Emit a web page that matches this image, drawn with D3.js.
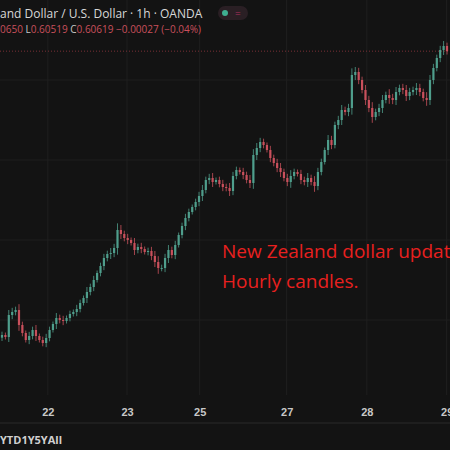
<!DOCTYPE html>
<html><head><meta charset="utf-8">
<script src="https://cdn.jsdelivr.net/npm/d3@7"></script>
<style>
body{margin:0;background:#131313;}
svg{display:block;font-family:"Open Sans",sans-serif;}
</style></head>
<body><div id="chart"></div>
<script>
// hourly closes, NZD/USD (x1e5)
var closes = [58916,58904,59036,59054,59066,58976,58928,58886,58910,58946,58910,58886,58868,58898,58946,58982,59018,59006,59000,59018,
59042,59054,59072,59108,59138,59174,59204,59246,59288,59330,59378,59402,59408,59438,59546,59522,59498,59486,59468,59426,
59444,59432,59414,59420,59390,59354,59318,59318,59378,59426,59396,59456,59516,59570,59618,59654,59684,59714,59750,59786,
59846,59858,59834,59846,59822,59804,59798,59780,59870,59906,59894,59876,59846,59828,59996,60038,60074,60056,60026,59978,
59948,59918,59894,59858,59834,59870,59894,59882,59846,59834,59858,59834,59810,59894,59954,60026,60086,60056,60176,60206,
60266,60254,60278,60476,60494,60446,60386,60326,60278,60224,60254,60278,60326,60356,60338,60326,60374,60398,60386,60350,
60374,60386,60398,60374,60338,60326,60446,60518,60578,60626,60650,60619];
// wick size beyond body (x1e5)
var wicks = [20,15,30,25,20,35,20,15,25,20,30,15,20,25,20,15,30,20,25,15,
20,15,25,20,15,30,20,25,15,20,25,20,30,25,40,30,20,25,15,30,
20,25,15,20,25,30,35,20,25,30,20,25,15,20,25,20,15,20,25,30,
20,25,30,15,20,25,20,30,25,20,15,25,20,30,35,30,25,20,15,25,
20,25,30,20,25,35,20,15,25,20,30,20,35,25,20,15,30,25,20,25,
30,20,25,40,30,25,20,30,25,35,20,25,30,20,35,25,30,20,25,30,
25,20,30,25,20,35,30,25,20,25,30,20];
var tickIdx = [13.5, 36.8, 58.2, 83.8, 107.4, 130.9];
var tickLabels = ["22", "23", "25", "27", "28", "29"];
var lastPrice = 0.60619;

var W = 450, H = 450, plotBottom = 395;
var candles = closes.map(function(c, i) {
  var o = i === 0 ? 58900 : closes[i - 1];
  return {i: i, o: o / 1e5, c: c / 1e5,
    h: (Math.max(o, c) + wicks[i]) / 1e5, l: (Math.min(o, c) - wicks[i]) / 1e5};
});

var x = d3.scaleLinear().domain([0, 131]).range([2, 447]);
var y = d3.scaleLinear().domain([0.58556, 0.60926]).range([plotBottom, 0]);

var svg = d3.select("#chart").append("svg").attr("width", W).attr("height", H);
svg.append("rect").attr("width", W).attr("height", H).attr("fill", "#131313");

// grid
svg.selectAll(".vg").data(tickIdx).enter().append("line")
  .attr("x1", function(d){ return x(d); }).attr("x2", function(d){ return x(d); })
  .attr("y1", 0).attr("y2", plotBottom).attr("stroke", "#1f1f1f");
svg.selectAll(".hg").data([0.60446, 0.59966, 0.59486, 0.59006]).enter().append("line")
  .attr("x1", 0).attr("x2", W)
  .attr("y1", function(d){ return y(d); }).attr("y2", function(d){ return y(d); })
  .attr("stroke", "#1f1f1f");

// last price dotted line
svg.append("line").attr("x1", 0).attr("x2", W)
  .attr("y1", y(lastPrice)).attr("y2", y(lastPrice))
  .attr("stroke", "#7a3036").attr("stroke-dasharray", "1,2");

var up = "#4f9e8c", down = "#c9505c";
var g = svg.append("g");
g.selectAll("line.wick").data(candles).enter().append("line")
  .attr("x1", function(d){ return x(d.i); }).attr("x2", function(d){ return x(d.i); })
  .attr("y1", function(d){ return y(d.h); }).attr("y2", function(d){ return y(d.l); })
  .attr("stroke", function(d){ return d.c >= d.o ? up : down; }).attr("stroke-width", 0.8);
g.selectAll("rect.body").data(candles).enter().append("rect")
  .attr("x", function(d){ return x(d.i) - 1.1; }).attr("width", 2.2)
  .attr("y", function(d){ return y(Math.max(d.o, d.c)); })
  .attr("height", function(d){ return Math.max(1, Math.abs(y(d.o) - y(d.c))); })
  .attr("fill", function(d){ return d.c >= d.o ? up : down; });

// x axis
var xAxis = d3.axisBottom(x).tickValues(tickIdx)
  .tickFormat(function(d, i){ return tickLabels[i]; }).tickSize(0).tickPadding(8);
var ax = svg.append("g").attr("transform", "translate(0," + (plotBottom + 5) + ")").call(xAxis);
ax.select(".domain").remove();
ax.selectAll("text").attr("fill", "#c8c8c8").style("font-size", "11px").style("font-weight", "bold");

svg.append("line").attr("x1", 0).attr("x2", W).attr("y1", 423).attr("y2", 423).attr("stroke", "#2a2a2a");
svg.append("text").attr("x", 0).attr("y", 444).attr("fill", "#d0d0d0")
  .style("font-size", "11px").style("font-weight", "bold").text("YTD1Y5YAll");

// header
svg.append("text").attr("x", 0).attr("y", 18).attr("fill", "#d8d8d8").style("font-size", "12px")
  .text("and Dollar / U.S. Dollar · 1h · OANDA");
var l2 = svg.append("text").attr("x", 0).attr("y", 33).style("font-size", "10px").attr("fill", "#c9505c");
l2.append("tspan").text("0650 ");
l2.append("tspan").attr("fill", "#c8c8c8").text("L");
l2.append("tspan").text("0.60519 ");
l2.append("tspan").attr("fill", "#c8c8c8").text("C");
l2.append("tspan").text("0.60619 −0.00027 (−0.04%)");
svg.append("rect").attr("x", 218).attr("y", 6).attr("width", 30).attr("height", 14).attr("rx", 7).attr("fill", "#2a1f24");
svg.append("circle").attr("cx", 225).attr("cy", 13).attr("r", 3).attr("fill", "#3fae90");
svg.append("text").attr("x", 235).attr("y", 17).attr("fill", "#b03060").style("font-size", "10px").text("=");

// annotation
svg.append("text").attr("x", 222).attr("y", 258).attr("fill", "#e8201f").style("font-size", "19px")
  .text("New Zealand dollar update.");
svg.append("text").attr("x", 222).attr("y", 288).attr("fill", "#e8201f").style("font-size", "19px")
  .text("Hourly candles.");
</script></body></html>
